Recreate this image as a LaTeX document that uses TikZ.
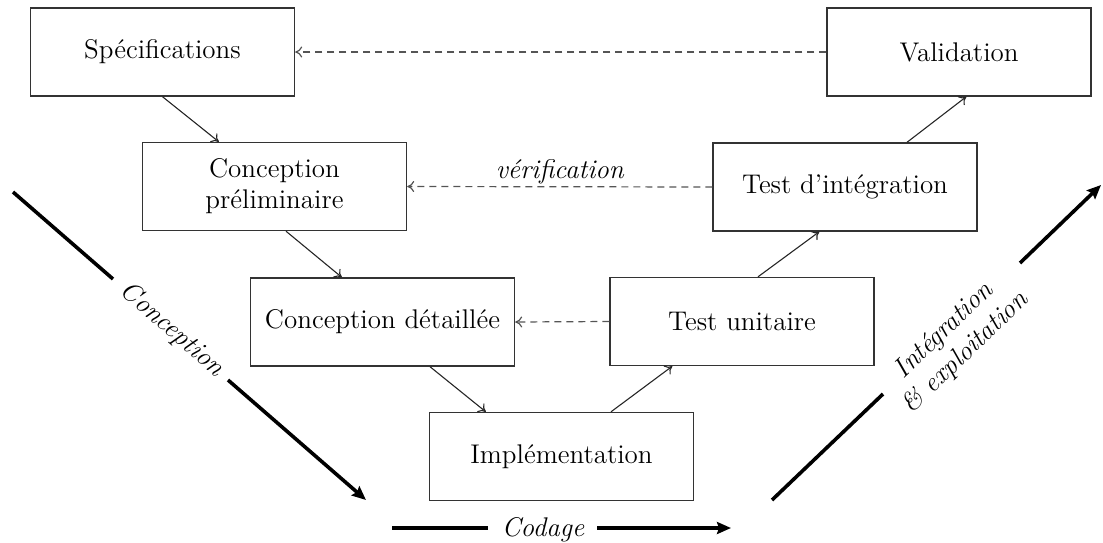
\documentclass[tikz,border=0pt]{standalone}
\usetikzlibrary{arrows.meta,calc}
\definecolor{boxline}{HTML}{333333}
\definecolor{dashline}{HTML}{555555}
\tikzset{
  stage/.style={draw=boxline, line width=0.7pt, minimum width=132pt, minimum height=44pt,
    inner sep=0pt, align=center, font=\fontsize{13.5}{15.5}\selectfont},
  flow/.style={draw=black!85, line width=0.55pt, -{To[length=3.5pt,width=5.5pt]}},
  back/.style={draw=dashline, line width=0.6pt, dash pattern=on 3.5pt off 2.5pt, -{To[length=3.5pt,width=5.5pt]}},
  phase/.style={draw=black, line width=1.8pt},
  phasearrow/.style={phase, -{Stealth[length=7pt,width=6pt,inset=1pt]}},
  phaselabel/.style={inner sep=0pt, align=center, font=\fontsize{13.5}{15.5}\selectfont\itshape}
}
\begin{document}
\begin{tikzpicture}[x=0.5pt,y=-0.5pt]
\useasboundingbox (0,0) rectangle (1103,542);
% stage boxes
\node[stage] (spec) at (162.5,52) {Spécifications};
\node[stage] (val)  at (959,52) {Validation};
\node[stage] (cp)   at (274.5,186.5) {Conception\\préliminaire};
\node[stage] (ti)   at (845,187) {Test d'intégration};
\node[stage] (cd)   at (382.5,322) {Conception détaillée};
\node[stage] (tu)   at (742,321.5) {Test unitaire};
\node[stage] (impl) at (561.5,456.5) {Implémentation};
% solid flow arrows
\draw[flow] (spec.south) -- ($(cp.north west)+(77,0)$);
\draw[flow] ($(cp.south)+(11.5,0)$) -- ($(cd.north west)+(92,0)$);
\draw[flow] ($(cd.south)+(47.5,0)$) -- ($(impl.north west)+(57,0)$);
\draw[flow] ($(impl.north)+(49.5,0)$) -- ($(tu.south west)+(63,0)$);
\draw[flow] ($(tu.north)+(16,0)$) -- ($(ti.south west)+(107,0)$);
\draw[flow] ($(ti.north)+(62,0)$) -- ($(val.south west)+(140,0)$);
% dashed back arrows
\draw[back] (val.west) -- (spec.east);
\draw[back] (ti.west) -- node[above=1pt, phaselabel] {vérification} (cp.east);
\draw[back] (tu.west) -- (cd.east);
% phase arrows
\coordinate (c1) at (13,192);
\coordinate (c2) at (113,279);
\coordinate (c3) at (228,380);
\coordinate (c4) at (366,500);
\node[phaselabel, rotate=-41.1] (lc) at (172,330) {Conception};
\draw[phase] (c1) -- (c2);
\draw[phasearrow] (c3) -- (c4);
\coordinate (d1) at (392,528);
\coordinate (d2) at (488,528);
\coordinate (d3) at (597,528);
\coordinate (d4) at (731,528);
\node[phaselabel] (ld) at (543,530) {Codage};
\draw[phase] (d1) -- (d2);
\draw[phasearrow] (d3) -- (d4);
\coordinate (e1) at (772,500);
\coordinate (e2) at (883,394);
\coordinate (e3) at (1020,263);
\coordinate (e4) at (1101,185);
\node[phaselabel, rotate=43.75] (le) at (955,342) {Intégration\\\& exploitation};
\draw[phase] (e1) -- (e2);
\draw[phasearrow] (e3) -- (e4);
\end{tikzpicture}
\end{document}
